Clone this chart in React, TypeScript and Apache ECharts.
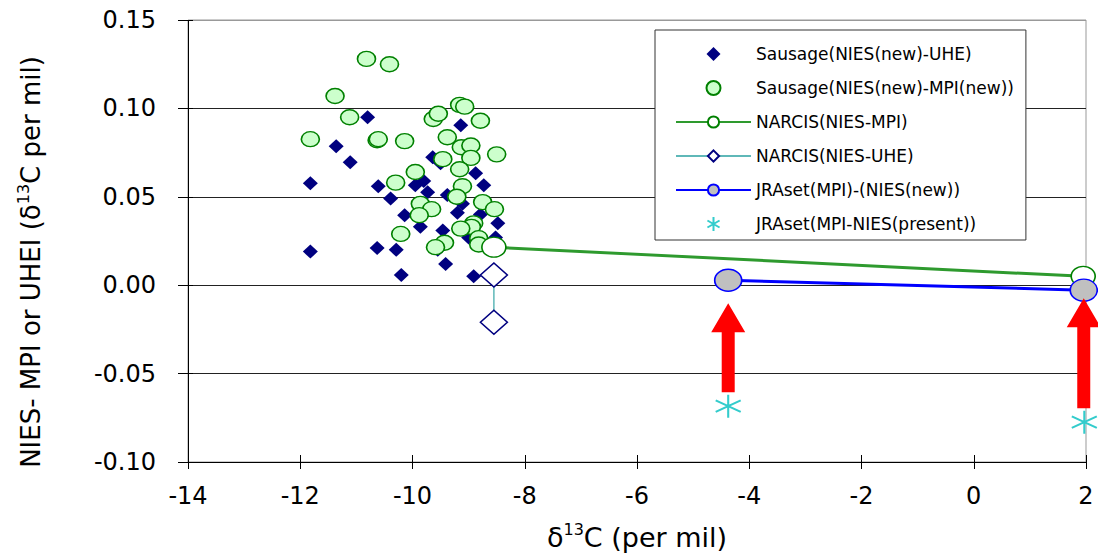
import React, { useEffect, useRef } from "react";
import * as echarts from "echarts";

const FONT = "DejaVu Sans";

const X_MIN = -14;
const X_MAX = 2;
const X_STEP = 2;
const Y_MIN = -0.1;
const Y_MAX = 0.15;
const Y_STEP = 0.05;

const seriesNames = [
  "Sausage(NIES(new)-UHE)",
  "Sausage(NIES(new)-MPI(new))",
  "NARCIS(NIES-MPI)",
  "NARCIS(NIES-UHE)",
  "JRAset(MPI)-(NIES(new))",
  "JRAset(MPI-NIES(present))",
];

const sausageUHE: [number, number][] = [
  [-10.8, 0.095], [-9.14, 0.0905], [-11.36, 0.0786], [-11.11, 0.0696], [-9.64, 0.0724],
  [-9.5, 0.069], [-8.875, 0.0633], [-11.82, 0.0577], [-10.61, 0.056], [-9.95, 0.0566],
  [-9.8, 0.059], [-8.73, 0.0566], [-10.39, 0.049], [-9.73, 0.0526], [-9.38, 0.051],
  [-9.11, 0.046], [-9.2, 0.041], [-10.14, 0.0396], [-8.79, 0.04], [-8.48, 0.035],
  [-9.86, 0.033], [-9.46, 0.031], [-9.0, 0.027], [-8.52, 0.027], [-11.82, 0.019],
  [-10.63, 0.021], [-10.29, 0.02], [-9.55, 0.02], [-9.41, 0.012], [-10.2, 0.0057],
  [-8.91, 0.005],
];

const sausageMPI: [number, number][] = [
  [-10.82, 0.128], [-10.41, 0.125], [-11.38, 0.107], [-11.12, 0.095], [-9.63, 0.094],
  [-9.54, 0.097], [-9.16, 0.102], [-9.07, 0.101], [-8.79, 0.093], [-11.82, 0.0826],
  [-10.63, 0.082], [-10.61, 0.0826], [-10.14, 0.0815], [-9.38, 0.0837], [-9.13, 0.078],
  [-8.96, 0.079], [-8.5, 0.074], [-8.96, 0.072], [-9.46, 0.0713], [-9.16, 0.0656],
  [-9.95, 0.064], [-10.3, 0.058], [-9.11, 0.056], [-9.21, 0.05], [-9.86, 0.046],
  [-9.66, 0.043], [-9.88, 0.0396], [-8.75, 0.047], [-8.54, 0.043], [-8.91, 0.035],
  [-8.95, 0.033], [-9.14, 0.032], [-10.21, 0.029], [-8.82, 0.0266], [-8.82, 0.023],
  [-9.43, 0.024], [-9.59, 0.0215],
];

const narcisMPI: [number, number][] = [[-8.55, 0.0215], [1.95, 0.005]];
const narcisUHE: [number, number][] = [[-8.55, 0.0057], [-8.55, -0.021]];
const jraNew: [number, number][] = [[-4.375, 0.0028], [1.96, -0.0028]];
const jraPresent: [number, number][] = [[-4.375, -0.0684], [1.97, -0.0775]];
// [x, y of arrow tail, y of arrow tip]
const arrows: [number, number, number][] = [
  [-4.375, -0.0605, -0.0102],
  [1.96, -0.0696, -0.0074],
];

const ELLIPSE = "path://M0,10 A10,10 0 1,1 20,10 A10,10 0 1,1 0,10 Z";
const DIAMOND = "path://M10,0L20,10L10,20L0,10Z";
const ASTERISK = "path://M10,0L10,20M1.34,5L18.66,15M1.34,15L18.66,5";

export default function App() {
  const ref = useRef<HTMLDivElement>(null);

  useEffect(() => {
    if (!ref.current) return;
    const chart = echarts.init(ref.current, undefined, { renderer: "svg" });
    const xCount = Math.round((X_MAX - X_MIN) / X_STEP) + 1;
    const xSplitColors = Array.from({ length: xCount }, (_, i) => (i === 0 ? "#000" : "rgba(0,0,0,0)"));

    chart.setOption({
      animation: false,
      backgroundColor: "#fff",
      grid: {
        left: 188,
        right: 12,
        top: 20,
        bottom: 93,
        show: true,
        borderColor: "#999",
        borderWidth: 1,
        outerBoundsMode: "none",
      },
      legend: {
        data: seriesNames,
        orient: "vertical",
        left: 655,
        top: 30,
        padding: [14, 12, 6, 20],
        itemWidth: 75,
        itemHeight: 14,
        itemGap: 14,
        selectedMode: false,
        symbolKeepAspect: true,
        backgroundColor: "#fff",
        borderColor: "#333",
        borderWidth: 1,
        textStyle: { fontFamily: FONT, fontSize: 17, color: "#000", lineHeight: 20 },
      },
      xAxis: {
        type: "value",
        min: X_MIN,
        max: X_MAX,
        interval: X_STEP,
        offset: -7,
        axisLine: { show: false, onZero: false },
        axisTick: { show: true, length: 14, lineStyle: { color: "#000" } },
        axisLabel: {
          fontFamily: FONT,
          fontSize: 24,
          color: "#000",
          margin: 29,
        },
        splitLine: { show: true, lineStyle: { color: xSplitColors, width: 1 } },
        name: "{n|δ}{s|13}{n|C (per mil)}",
        nameLocation: "middle",
        nameGap: 66,
        nameTextStyle: {
          rich: {
            n: { fontFamily: FONT, fontSize: 27, color: "#000", lineHeight: 32 },
            s: { fontFamily: FONT, fontSize: 16, color: "#000", lineHeight: 20, verticalAlign: "top" },
          },
        },
      },
      yAxis: {
        type: "value",
        min: Y_MIN,
        max: Y_MAX,
        interval: Y_STEP,
        offset: -5,
        axisLine: { show: false, onZero: false },
        axisTick: { show: true, length: 15, lineStyle: { color: "#000" } },
        axisLabel: {
          fontFamily: FONT,
          fontSize: 24,
          color: "#000",
          margin: 37,
          formatter: (v: number) => v.toFixed(2),
        },
        splitLine: {
          show: true,
          lineStyle: { color: ["#000", "#222", "#222", "#222", "#222", "#999"], width: 1 },
        },
        name: "{n|NIES- MPI or UHEI (δ}{s|13}{n|C per mil)}",
        nameLocation: "middle",
        nameRotate: 90,
        nameGap: 146,
        nameTextStyle: {
          padding: [0, 42, 0, 0],
          rich: {
            n: { fontFamily: FONT, fontSize: 26, color: "#000", lineHeight: 32 },
            s: { fontFamily: FONT, fontSize: 16, color: "#000", lineHeight: 20, verticalAlign: "top" },
          },
        },
      },
      series: [
        {
          name: seriesNames[0],
          type: "scatter",
          data: sausageUHE,
          symbol: DIAMOND,
          symbolSize: [15, 14],
          itemStyle: { color: "#000080", opacity: 1 },
          z: 2,
        },
        {
          name: seriesNames[1],
          type: "scatter",
          data: sausageMPI,
          symbol: ELLIPSE,
          symbolSize: [18, 15],
          itemStyle: { color: "#ccffcc", borderColor: "#008000", borderWidth: 1.5, opacity: 1 },
          z: 3,
        },
        {
          name: seriesNames[2],
          type: "line",
          data: narcisMPI,
          symbol: ELLIPSE,
          symbolSize: [24, 20],
          showSymbol: true,
          lineStyle: { color: "#2e9a2e", width: 3 },
          itemStyle: { color: "#ffffff", borderColor: "#008000", borderWidth: 1.5 },
          z: 4,
        },
        {
          name: seriesNames[3],
          type: "line",
          data: narcisUHE,
          symbol: "diamond",
          symbolSize: [27, 24],
          showSymbol: true,
          lineStyle: { color: "#5fb8b8", width: 1.5 },
          itemStyle: { color: "#ffffff", borderColor: "#000080", borderWidth: 1.5 },
          z: 4,
        },
        {
          name: seriesNames[4],
          type: "line",
          data: jraNew,
          symbol: ELLIPSE,
          symbolSize: [27, 22],
          showSymbol: true,
          lineStyle: { color: "#0000ff", width: 3 },
          itemStyle: { color: "#c0c0c0", borderColor: "#0000ff", borderWidth: 1.5 },
          z: 5,
        },
        {
          name: seriesNames[5],
          type: "scatter",
          data: jraPresent,
          symbol: ASTERISK,
          symbolSize: [25, 23],
          itemStyle: { color: "rgba(0,0,0,0)", borderColor: "#33cccc", borderWidth: 2, opacity: 1 },
          z: 5,
        },
        {
          name: "arrows",
          type: "custom",
          data: arrows,
          encode: { x: 0, y: [1, 2] },
          z: 6,
          renderItem: (_params: any, api: any) => {
            const x = api.value(0);
            const tail = api.coord([x, api.value(1)]);
            const tip = api.coord([x, api.value(2)]);
            const cx = tip[0];
            const sw = 6.5;
            const hw = 17;
            const hl = 29;
            return {
              type: "polygon",
              shape: {
                points: [
                  [cx - sw, tail[1]],
                  [cx - sw, tip[1] + hl],
                  [cx - hw, tip[1] + hl],
                  [cx, tip[1]],
                  [cx + hw, tip[1] + hl],
                  [cx + sw, tip[1] + hl],
                  [cx + sw, tail[1]],
                ],
              },
              style: { fill: "#ff0000" },
            };
          },
        },
      ],
    });

    return () => chart.dispose();
  }, []);

  return (
    <div
      ref={ref}
      style={{ position: "fixed", left: 0, top: 0, width: 1098, height: 555, background: "#fff" }}
    />
  );
}
